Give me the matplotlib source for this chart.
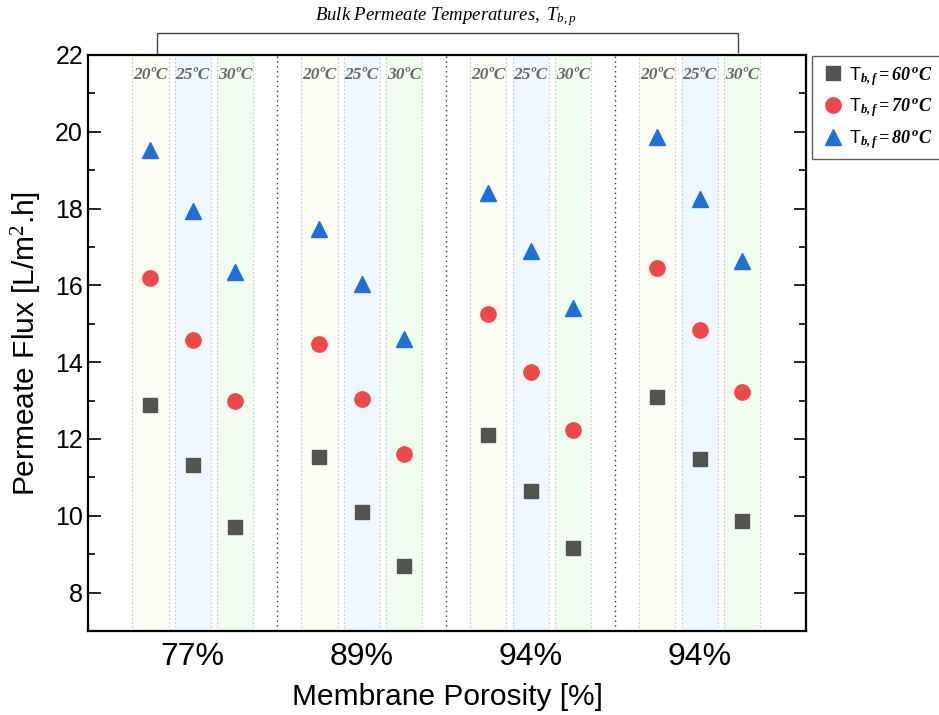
import matplotlib
matplotlib.use('Agg')
import matplotlib.pyplot as plt
import numpy as np
from matplotlib.ticker import MultipleLocator
import matplotlib.transforms as mtransforms

plt.rcParams['font.family'] = ['Liberation Sans', 'DejaVu Sans']
plt.rcParams['mathtext.fontset'] = 'custom'
plt.rcParams['mathtext.rm'] = 'Liberation Serif'
plt.rcParams['mathtext.it'] = 'Liberation Serif:italic'
plt.rcParams['mathtext.bf'] = 'Liberation Serif:italic:bold'

porosity = ['77%', '89%', '94%', '94%']
perm_temps = ['20ºC', '25ºC', '30ºC']
feed_labels = [r'T$_{\mathbf{b,f}}\mathbf{=60\,^{o}C}$',
               r'T$_{\mathbf{b,f}}\mathbf{=70\,^{o}C}$',
               r'T$_{\mathbf{b,f}}\mathbf{=80\,^{o}C}$']

# flux per porosity group, columns = permeate temp 20/25/30
flux_60 = [[12.89, 11.31, 9.72],
           [11.54, 10.11, 8.68],
           [12.11, 10.65, 9.15],
           [13.10, 11.49, 9.87]]
flux_70 = [[16.20, 14.58, 13.00],
           [14.48, 13.05, 11.62],
           [15.26, 13.75, 12.24],
           [16.46, 14.84, 13.23]]
flux_80 = [[19.53, 17.94, 16.35],
           [17.47, 16.04, 14.61],
           [18.41, 16.90, 15.42],
           [19.87, 18.25, 16.64]]

offsets = [-0.25, 0.0, 0.25]
band_colors = ['#fcfbf4', '#f0f8ff', '#f0fdf0']

fig = plt.figure(figsize=(9.39, 7.15), dpi=100)
ax = fig.add_axes([0.0937, 0.1175, 0.7647, 0.8056])

# shaded bands for permeate temperatures
for g in range(len(porosity)):
    for j, off in enumerate(offsets):
        x0 = g + off
        ax.axvspan(x0 - 0.107, x0 + 0.107, color=band_colors[j], zorder=0, lw=0)
        for xe in (x0 - 0.107, x0 + 0.107):
            ax.axvline(xe, color='#c8c8c8', ls=(0, (1.5, 2)), lw=0.8, zorder=0.5)
        ax.text(x0, 0.965, perm_temps[j], transform=ax.get_xaxis_transform(),
                ha='center', va='center', family='Liberation Serif',
                style='italic', weight='bold', fontsize=12.5, color='#6a6a6a')

for sep in [0.5, 1.5, 2.5]:
    ax.axvline(sep, color='#333333', ls=(0, (1, 2.5)), lw=1.0, zorder=0.6)

x = np.array([[g + o for o in offsets] for g in range(len(porosity))]).ravel()
ax.plot(x, np.ravel(flux_60), 's', color='#535350', ms=10, ls='none', label=feed_labels[0], zorder=3)
ax.plot(x, np.ravel(flux_70), 'o', color='#f04848', ms=11, ls='none', label=feed_labels[1], zorder=3)
ax.plot(x, np.ravel(flux_80), '^', color='#1f6fd8', ms=12, ls='none', label=feed_labels[2], zorder=3)

ax.set_xlim(-0.62, 3.63)
ax.set_ylim(7, 22)
ax.set_xticks(range(len(porosity)))
ax.set_xticklabels(porosity, fontsize=23)
ax.tick_params(axis='x', length=0, pad=8)
ax.yaxis.set_major_locator(MultipleLocator(2))
ax.yaxis.set_minor_locator(MultipleLocator(1))
ax.tick_params(axis='y', which='both', direction='in', right=True, labelsize=18, width=1.2)
ax.tick_params(axis='y', which='major', length=9)
ax.tick_params(axis='y', which='minor', length=5)
for s in ax.spines.values():
    s.set_linewidth(1.6)

ax.set_xlabel('Membrane Porosity [%]', fontsize=21.5, labelpad=8)
ax.set_ylabel('Permeate Flux [L/m$^2$.h]', fontsize=21.5, labelpad=8)

# bracket above plot
trans = mtransforms.blended_transform_factory(ax.transData, ax.transAxes)
ax.plot([-0.21, -0.21, 3.23, 3.23], [1.0, 1.038, 1.038, 1.006], color='#444444',
        lw=1.0, transform=trans, clip_on=False)
ax.text(1.5, 1.046, r'$Bulk\ Permeate\ Temperatures,\ T_{b,p}$', transform=trans,
        ha='center', va='bottom', fontsize=13.5)

leg = ax.legend(loc='upper left', bbox_to_anchor=(0.865, 0.921), bbox_transform=fig.transFigure,
                borderaxespad=0, fontsize=13, frameon=True, fancybox=False, edgecolor='#333333',
                handletextpad=0.2, borderpad=0.45, labelspacing=0.5, handlelength=1.4)
leg.get_frame().set_linewidth(1.0)

fig.savefig('out.png', dpi=100)
